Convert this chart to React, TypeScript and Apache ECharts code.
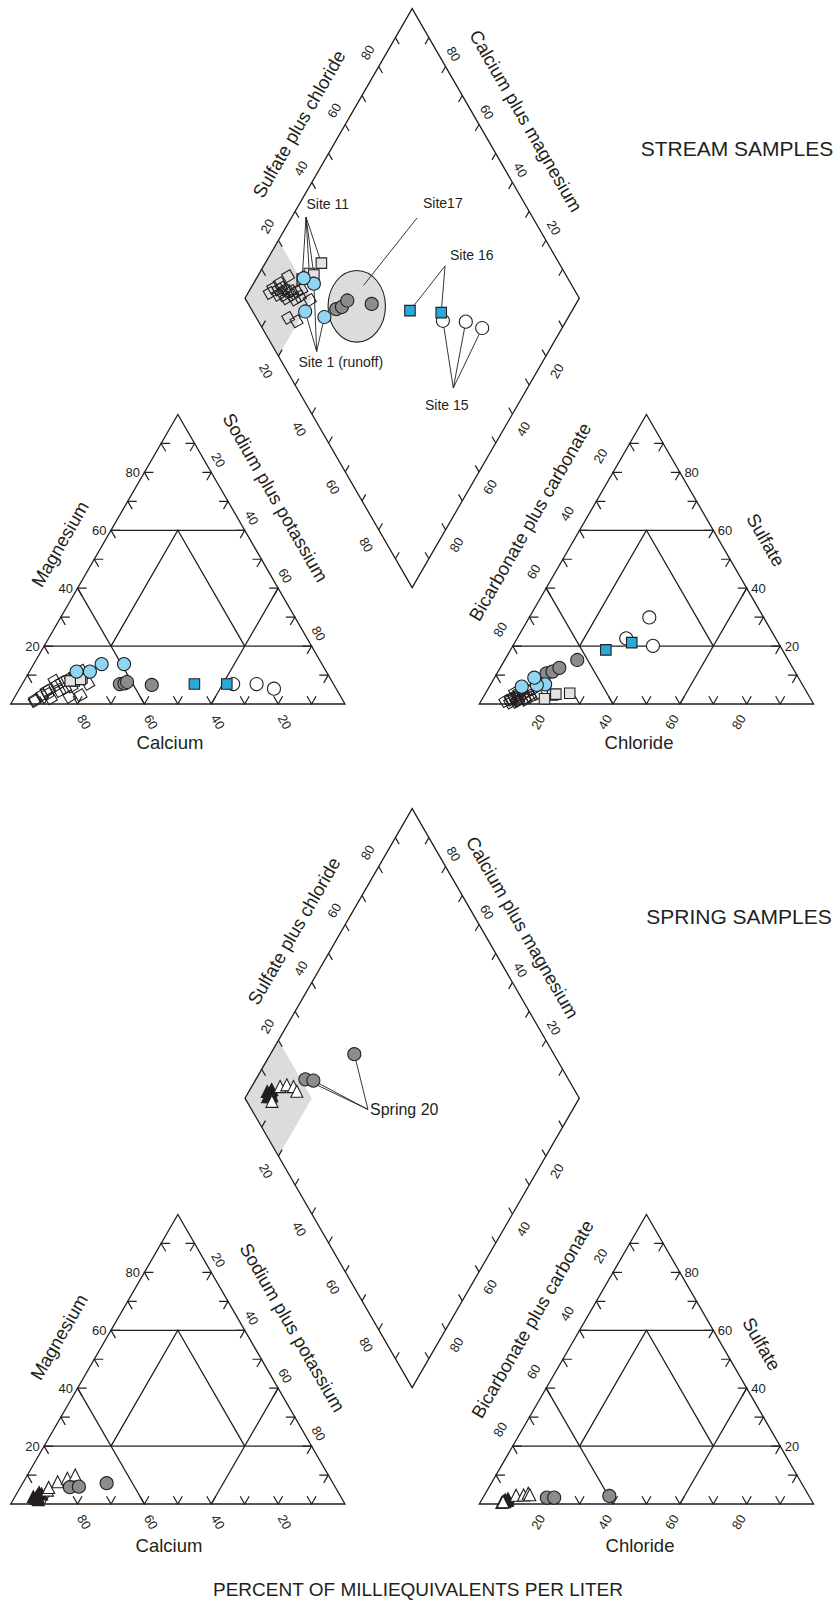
import React, { useEffect, useRef } from "react";
import * as echarts from "echarts";

// ---------------- DATA (percent of milliequivalents per liter) ----------------
// Each sample: [calcium, magnesium, chloride, sulfate]
// sodium + potassium = 100 - Ca - Mg ; bicarbonate + carbonate = 100 - Cl - SO4
const streamOtherSites: number[][] = [
  [89.2, 3.0, 10.0, 3.0],
  [82.9, 8.0, 12.2, 4.5],
  [92.3, 1.0, 8.7, 1.5],
  [92.0, 1.5, 7.3, 1.0],
  [87.2, 3.5, 8.5, 2.0],
  [83.0, 6.5, 10.9, 2.5],
  [78.8, 8.5, 11.6, 3.5],
  [75.8, 10.0, 13.6, 3.0],
  [73.1, 11.5, 13.4, 5.0],
  [83.1, 4.5, 10.9, 1.5],
  [78.8, 6.0, 12.7, 2.0],
  [73.3, 7.0, 15.6, 3.5],
  [81.2, 2.5, 9.0, 0.5],
  [77.6, 3.0, 10.6, 0.8],
  [85.9, 5.0, 8.7, 4.0],
  [74.9, 9.0, 14.2, 2.5],
  [87.0, 4.5, 9.5, 2.0],
  [81.0, 7.5, 10.0, 4.0],
  [81.0, 5.5, 13.0, 1.5],
  [87.0, 2.0, 11.0, 1.0],
];
const streamSite11: number[][] = [
  [74.2, 9.0, 25.2, 3.7],
  [77.0, 8.0, 20.4, 3.1],
  [74.9, 8.5, 21.2, 3.4],
  [78.2, 8.0, 18.6, 1.8],
];
const streamSite1Runoff: number[][] = [
  [70.7, 11.2, 16.3, 6.8],
  [65.9, 13.8, 9.7, 6.0],
  [59.2, 13.8, 13.9, 6.6],
  [74.7, 11.2, 11.9, 9.1],
];
const streamSite17: number[][] = [
  [63.9, 6.9, 14.8, 10.6],
  [62.4, 7.1, 16.3, 11.2],
  [61.4, 7.6, 17.7, 12.5],
  [54.5, 6.6, 21.7, 15.2],
];
const streamSite16: number[][] = [
  [41.6, 6.9, 28.5, 18.7],
  [31.9, 6.9, 35.0, 21.2],
];
const streamSite15: number[][] = [
  [30.0, 6.9, 32.6, 22.7],
  [23.0, 6.9, 41.9, 20.1],
  [18.6, 5.3, 35.9, 29.9],
];
const springFilledTri: number[][] = [
  [92.0, 2.5, 6.8, 1.0],
  [90.5, 3.0, 7.8, 1.2],
  [89.0, 3.5, 7.0, 1.5],
  [91.5, 2.0, 6.5, 0.5],
  [89.5, 4.0, 7.7, 1.8],
  [91.0, 1.5, 7.2, 0.8],
];
const springOpenTri: number[][] = [
  [86.6, 4.8, 6.7, 0.8],
  [85.8, 5.7, 9.5, 3.0],
  [82.1, 7.7, 11.7, 3.1],
  [78.6, 8.9, 12.8, 3.7],
  [75.7, 10.0, 13.5, 3.2],
];
const springSpring20: number[][] = [
  [79.4, 5.8, 19.1, 2.2],
  [76.6, 6.0, 21.3, 2.2],
  [67.7, 7.2, 37.5, 2.8],
];
const tickLabels = [20, 40, 60, 80];

// ---------------- GEOMETRY / STYLE ----------------
const W = 836;
const H = 1604;
const INK = "#231f20";
const FONT = '"Liberation Sans", Arial, Helvetica, sans-serif';
const SHADE_FILL = "#dcdcdc";
const SQ3 = Math.sqrt(3);
const SIDE = 334.3;
const HT = (SIDE * SQ3) / 2;
const CAT_X0 = 10.7;
const AN_X0 = 479.3;
const BASE_Y = 704;
const DIA_X = (CAT_X0 + SIDE + AN_X0) / 2;
const DIA_Y = BASE_Y - ((AN_X0 - CAT_X0 - SIDE) / 2) * SQ3;
const LW = 1.3;

type Pt = [number, number];
const catPt = (ca: number, mg: number, dy: number): Pt => [
  CAT_X0 + (SIDE * (100 - ca - mg / 2)) / 100,
  BASE_Y + dy - (HT * mg) / 100,
];
const anPt = (cl: number, so4: number, dy: number): Pt => [
  AN_X0 + (SIDE * (cl + so4 / 2)) / 100,
  BASE_Y + dy - (HT * so4) / 100,
];
const diaPt = (c: number, a: number, dy: number): Pt => [
  DIA_X + (SIDE / 2) * (a - c),
  DIA_Y + dy - HT * (a + c),
];
const diaOf = (s: number[], dy: number): Pt => diaPt((s[0] + s[1]) / 100, (s[2] + s[3]) / 100, dy);
const allPts = (samples: number[][], dy: number): Pt[] =>
  samples.flatMap((s) => [catPt(s[0], s[1], dy), anPt(s[2], s[3], dy), diaOf(s, dy)]);

const UL: Pt = [-0.5, -SQ3 / 2];
const UR: Pt = [0.5, -SQ3 / 2];
const DL: Pt = [-0.5, SQ3 / 2];
const DR: Pt = [0.5, SQ3 / 2];
const RT: Pt = [1, 0];
const LT: Pt = [-1, 0];
const add = (p: Pt, d: Pt): Pt => [p[0] + d[0], p[1] + d[1]];
const along = (p: Pt, d: Pt, len: number): Pt => [p[0] + d[0] * len, p[1] + d[1] * len];

const ln = (p: Pt, q: Pt, w = LW) => ({
  type: "line",
  silent: true,
  shape: { x1: p[0], y1: p[1], x2: q[0], y2: q[1] },
  style: { stroke: INK, lineWidth: w },
});
const pg = (pts: Pt[], w = LW) => ({
  type: "polygon",
  silent: true,
  shape: { points: pts },
  style: { stroke: INK, lineWidth: w, fill: "none", lineJoin: "miter" },
});
const pl = (pts: Pt[], w = LW) => ({
  type: "polyline",
  silent: true,
  shape: { points: pts },
  style: { stroke: INK, lineWidth: w, fill: "none", lineJoin: "miter" },
});
const chev = (p: Pt, d1: Pt, d2: Pt, len: number) => pl([along(p, d1, len), p, along(p, d2, len)], 1.2);
const txt = (s: string, p: Pt, size: number, rot = 0, align = "center") => ({
  type: "text",
  silent: true,
  x: p[0],
  y: p[1],
  rotation: rot,
  style: {
    text: s,
    fontSize: size,
    fontFamily: FONT,
    fill: INK,
    align,
    verticalAlign: "middle",
  },
});

const R60 = Math.PI / 3;

const PANELS = [
  {
    dy: 0,
    heading: "STREAM SAMPLES",
    headingPos: [737, 148] as Pt,
    mg: [60, 544] as Pt,
    na: [275.5, 497.5] as Pt,
    ca: [170, 742.5] as Pt,
    hco3: [530, 521.7] as Pt,
    so4: [765.8, 540] as Pt,
    cl: [639, 742.7] as Pt,
    so4cl: [299, 124] as Pt,
    camg: [526, 121] as Pt,
  },
  {
    dy: 800,
    heading: "SPRING SAMPLES",
    headingPos: [739, 916] as Pt,
    mg: [59, 1337] as Pt,
    na: [292.5, 1327.5] as Pt,
    ca: [169, 1545] as Pt,
    hco3: [532.5, 1319] as Pt,
    so4: [761.7, 1344] as Pt,
    cl: [640, 1545] as Pt,
    so4cl: [294, 931] as Pt,
    camg: [522.5, 927.5] as Pt,
  },
];

function frameGraphics(P: (typeof PANELS)[number]) {
  const dy = P.dy;
  const g: any[] = [];
  // shaded Ca-HCO3 zone
  g.push({
    type: "polygon",
    silent: true,
    shape: { points: [diaPt(1, 0, dy), diaPt(1, 0.2, dy), diaPt(0.8, 0.2, dy), diaPt(0.8, 0, dy)] },
    style: { fill: SHADE_FILL, stroke: "none" },
  });
  // cation triangle
  g.push(pg([catPt(100, 0, dy), catPt(0, 0, dy), catPt(0, 100, dy)]));
  g.push(ln(catPt(80, 20, dy), catPt(0, 20, dy)));
  g.push(ln(catPt(40, 60, dy), catPt(0, 60, dy)));
  g.push(ln(catPt(60, 0, dy), catPt(60, 40, dy)));
  g.push(ln(catPt(40, 0, dy), catPt(0, 40, dy)));
  g.push(pl([catPt(60, 20, dy), catPt(20, 60, dy), catPt(20, 20, dy)]));
  // anion triangle
  g.push(pg([anPt(0, 0, dy), anPt(100, 0, dy), anPt(0, 100, dy)]));
  g.push(ln(anPt(0, 20, dy), anPt(80, 20, dy)));
  g.push(ln(anPt(0, 60, dy), anPt(40, 60, dy)));
  g.push(ln(anPt(40, 0, dy), anPt(0, 40, dy)));
  g.push(ln(anPt(60, 0, dy), anPt(60, 40, dy)));
  g.push(pl([anPt(20, 20, dy), anPt(20, 60, dy), anPt(60, 20, dy)]));
  // diamond
  g.push(pg([diaPt(0, 0, dy), diaPt(1, 0, dy), diaPt(1, 1, dy), diaPt(0, 1, dy)]));

  // ticks
  const TL = 9;
  const DTL = 7.5;
  for (let k = 1; k <= 9; k++) {
    const v = 10 * k;
    g.push(chev(catPt(100 - v, 0, dy), UL, UR, TL));
    g.push(chev(catPt(100 - v, v, dy), RT, DR, TL));
    g.push(chev(catPt(0, v, dy), LT, DL, TL));
    g.push(chev(anPt(v, 0, dy), UL, UR, TL));
    g.push(chev(anPt(0, v, dy), RT, DR, TL));
    g.push(chev(anPt(100 - v, v, dy), LT, DL, TL));
    const f = k / 10;
    let p = diaPt(1, f, dy);
    g.push(ln(p, along(p, DR, DTL), 1.2));
    p = diaPt(f, 1, dy);
    g.push(ln(p, along(p, DL, DTL), 1.2));
    p = diaPt(f, 0, dy);
    g.push(ln(p, along(p, UR, DTL), 1.2));
    p = diaPt(0, f, dy);
    g.push(ln(p, along(p, UL, DTL), 1.2));
  }

  // tick labels
  const TS = 13;
  for (const v of tickLabels) {
    const s = String(v);
    g.push(txt(s, add(catPt(v, 0, dy), [6.5, 18]), TS, -R60));
    g.push(txt(s, add(catPt(100 - v, v, dy), [-4.5, 0]), TS, 0, "right"));
    g.push(txt(s, add(catPt(0, 100 - v, dy), [7, -12.5]), TS, -R60));
    g.push(txt(s, add(anPt(v, 0, dy), [-8, 18]), TS, R60));
    g.push(txt(s, add(anPt(100 - v, v, dy), [4.5, 0]), TS, 0, "left"));
    g.push(txt(s, add(anPt(0, 100 - v, dy), [-12.5, -16.5]), TS, R60));
    g.push(txt(s, add(diaPt(1, v / 100, dy), [-11, -14]), TS, R60));
    g.push(txt(s, add(diaPt(v / 100, 1, dy), [8, -12.5]), TS, -R60));
    g.push(txt(s, add(diaPt(1 - v / 100, 0, dy), [-12.5, 15]), TS, -R60));
    g.push(txt(s, add(diaPt(0, 1 - v / 100, dy), [11, 15]), TS, R60));
  }

  // axis titles
  const AS = 18.5;
  g.push(txt("Magnesium", P.mg, AS, R60));
  g.push(txt("Sodium plus potassium", P.na, AS, -R60));
  g.push(txt("Calcium", P.ca, AS));
  g.push(txt("Bicarbonate plus carbonate", P.hco3, AS, R60));
  g.push(txt("Sulfate", P.so4, AS, -R60));
  g.push(txt("Chloride", P.cl, AS));
  g.push(txt("Sulfate plus chloride", P.so4cl, AS, R60));
  g.push(txt("Calcium plus magnesium", P.camg, AS, -R60));
  g.push(txt(P.heading, P.headingPos, 21));
  return g;
}

// annotation layout
const LS = 14;
function annotationGraphics() {
  const g: any[] = [];
  // Site 17 enclosing ellipse (centre given in diamond fractions)
  const ec = diaPt(0.6516, 0.3202, 0);
  g.push({
    type: "ellipse",
    silent: true,
    shape: { cx: ec[0], cy: ec[1], rx: 28.7, ry: 35.8 },
    style: { fill: SHADE_FILL, stroke: INK, lineWidth: 1.1 },
  });
  const leaders = (anchor: Pt, samples: number[][], dy: number) =>
    samples.map((s) => ln(anchor, diaOf(s, dy), 0.9));
  g.push(...leaders([306, 217], streamSite11, 0));
  g.push(txt("Site 11", [306.5, 204], LS, 0, "left"));
  g.push(ln([417, 218], diaPt(0.6675, 0.3765, 0), 0.9));
  g.push(txt("Site17", [423, 203], LS, 0, "left"));
  g.push(...leaders([445, 266], streamSite16, 0));
  g.push(txt("Site 16", [450, 254.5], LS, 0, "left"));
  g.push(...leaders([316.7, 351.5], streamSite1Runoff.slice(0, 3), 0));
  g.push(txt("Site 1 (runoff)", [298.5, 362], LS, 0, "left"));
  g.push(...leaders([453.3, 388], streamSite15, 0));
  g.push(txt("Site 15", [425, 405], LS, 0, "left"));
  g.push(...leaders([368, 1109.5], springSpring20, 800));
  g.push(txt("Spring 20", [370, 1109.5], 16, 0, "left"));
  g.push(txt("PERCENT OF MILLIEQUIVALENTS PER LITER", [418, 1589], 19));
  return g;
}

const sc = (data: Pt[], symbol: string, size: number, color: string, extra: any = {}) => ({
  type: "scatter",
  data,
  symbol,
  symbolSize: size,
  silent: true,
  emphasis: { disabled: true },
  itemStyle: { color, borderColor: INK, borderWidth: 1.1, opacity: 1 },
  ...extra,
});

export default function App() {
  const ref = useRef<HTMLDivElement>(null);
  useEffect(() => {
    document.body.style.margin = "0";
    document.body.style.background = "#ffffff";
    if (!ref.current) return;
    const chart = echarts.init(ref.current, null, { renderer: "svg" });
    const graphic = [...PANELS.flatMap((p) => frameGraphics(p)), ...annotationGraphics()];
    chart.setOption({
      animation: false,
      backgroundColor: "#ffffff",
      grid: { left: 0, right: 0, top: 0, bottom: 0 },
      xAxis: { type: "value", min: 0, max: W, show: false },
      yAxis: { type: "value", min: 0, max: H, inverse: true, show: false },
      graphic,
      series: [
        sc(allPts(streamOtherSites, 0), "rect", 9.5, "rgba(255,255,255,0)", { symbolRotate: 30 }),
        sc(allPts(streamSite11, 0), "rect", 10.5, "#e3e3e3"),
        sc(allPts(streamSite17, 0), "circle", 13, "#8c8c8c"),
        sc(allPts(streamSite15, 0), "circle", 13, "#ffffff"),
        sc(allPts(streamSite16, 0), "rect", 10.5, "#2aa9d9"),
        sc(allPts(streamSite1Runoff, 0), "circle", 13, "#8fd6f4"),
        sc(allPts(springFilledTri, 800), "triangle", 12, INK),
        sc(allPts(springOpenTri, 800), "triangle", 12, "#ffffff"),
        sc(allPts(springSpring20, 800), "circle", 13, "#8c8c8c"),
      ],
    });
    return () => chart.dispose();
  }, []);
  return <div ref={ref} style={{ width: W, height: H }} />;
}
